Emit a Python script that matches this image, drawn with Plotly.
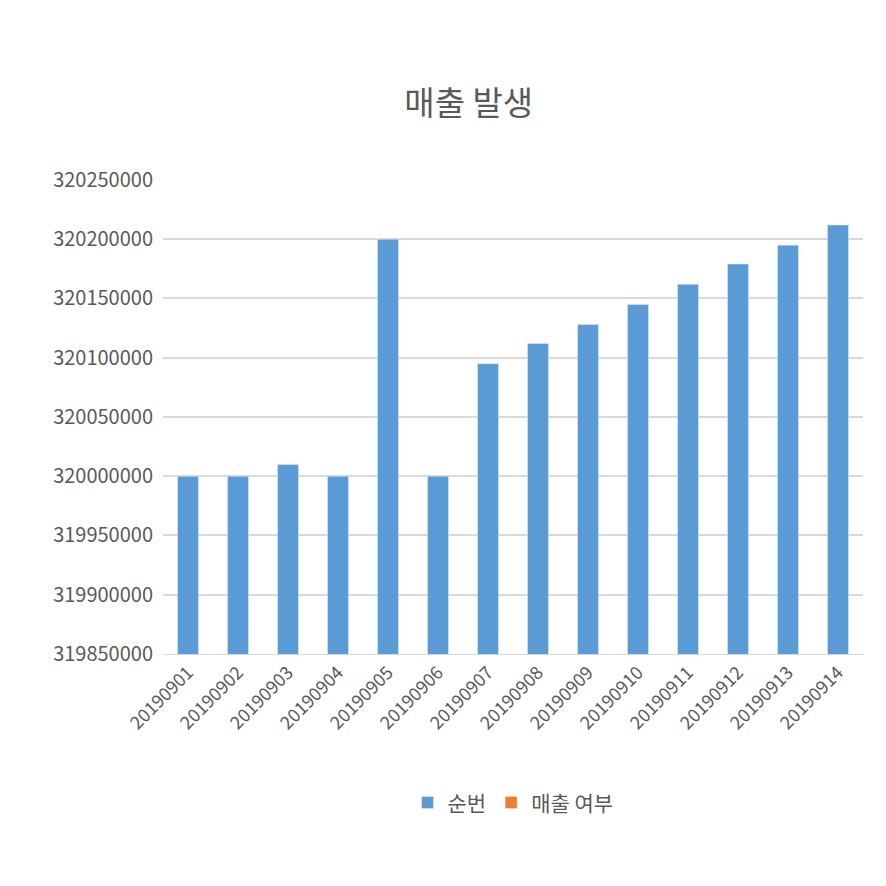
import plotly.graph_objects as go

dates = [str(20190901 + i) for i in range(14)]
seq = [320000000, 320000000, 320010000, 320000000, 320200000, 320000000, 320095000,
       320112000, 320128000, 320145000, 320162000, 320179000, 320195000, 320212000]
sales = [0] * 14

fig = go.Figure()
fig.add_bar(x=dates, y=seq, name="순번", marker_color="#5b9bd5", width=0.42)
fig.add_bar(x=dates, y=sales, name="매출 여부", marker_color="#ed7d31", width=0.42)
fig.update_layout(
    width=886, height=886, barmode="overlay",
    paper_bgcolor="white", plot_bgcolor="white",
    font=dict(family="Noto Sans CJK KR", color="#595959", size=18),
    title=dict(text="매출 발생", x=0.52, xanchor="center", y=0.905, font=dict(size=33, color="#595959")),
    margin=dict(l=155, r=31, t=171, b=240, autoexpand=False),
    showlegend=True,
    legend=dict(orientation="h", x=0.5, xanchor="center", y=-0.27, yanchor="top", font=dict(size=21)),
    xaxis=dict(type="category", tickangle=-45, showline=True, linecolor="#d9d9d9", ticks="", tickfont=dict(size=18)),
    yaxis=dict(range=[319850000, 320250800], dtick=50000, tickformat="d", gridcolor="#d9d9d9",
               gridwidth=1.5, zeroline=False, tickfont=dict(size=20), ticksuffix="  "),
)
fig.write_html("out.html")
